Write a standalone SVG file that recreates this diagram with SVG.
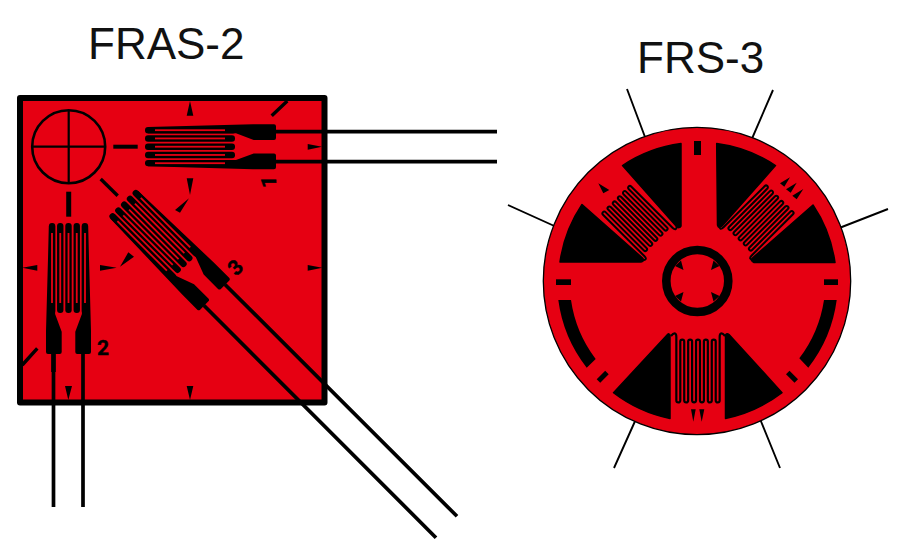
<svg xmlns="http://www.w3.org/2000/svg" xmlns:xlink="http://www.w3.org/1999/xlink" width="900" height="546" viewBox="0 0 900 546">
<style>
.title{font-family:"Liberation Sans",Arial,sans-serif;font-size:44px;fill:#111}
.num{font-family:Roboto,"Liberation Sans",sans-serif;font-size:21px;font-weight:700;fill:#000;stroke:#000;stroke-width:.4}
.red{fill:#e60012}
.blk{fill:#000}
.lead{fill:none;stroke:#000;stroke-width:3.7}
.thin{fill:none;stroke:#000;stroke-width:1.9}
.dash{fill:none;stroke:#000}
.pad{fill:#000;stroke:#000;stroke-width:1.5;stroke-linejoin:round}
</style>
<defs>
<g id="gauge">
<path class="blk" d="M-19.6,3L-22.5,108V129Q-22.5,131-20.5,131H-8.8Q-6.8,131-6.8,129V108.7L-13.4,91V3Z"/>
<path class="blk" d="M19.6,3L22.5,108V129Q22.5,131 20.5,131H8.8Q6.8,131 6.8,129V108.7L13.4,91V3Z"/>
<rect class="blk" x="-19.6" y="0" width="6.4" height="91" rx="3"/>
<rect class="blk" x="-11.45" y="0" width="6.4" height="90" rx="3"/>
<rect class="blk" x="-3.2" y="0" width="6.4" height="90" rx="3"/>
<rect class="blk" x="5.05" y="0" width="6.4" height="90" rx="3"/>
<rect class="blk" x="13.2" y="0" width="6.4" height="91" rx="3"/>
<rect class="red" x="-17.4" y="10" width="1.8" height="70"/>
<rect class="red" x="-9.15" y="10" width="1.8" height="70"/>
<rect class="red" x="-.9" y="10" width="1.8" height="70"/>
<rect class="red" x="7.35" y="10" width="1.8" height="70"/>
<rect class="red" x="15.6" y="10" width="1.8" height="70"/>
</g>
<path id="grid" fill="none" stroke="#000" stroke-width="2.2" stroke-linejoin="round" d="M-27,3Q-24.5,0-23,.5Q-21.66,1-21.66,4V67.5A1.97 1.97 0 0 0-17.72,67.5V8.5A1.97 1.97 0 0 1-13.78,8.5V67.5A1.97 1.97 0 0 0-9.84,67.5V8.5A1.97 1.97 0 0 1-5.9,8.5V67.5A1.97 1.97 0 0 0-1.97,67.5V8.5A1.97 1.97 0 0 1 1.97,8.5V67.5A1.97 1.97 0 0 0 5.9,67.5V8.5A1.97 1.97 0 0 1 9.84,8.5V67.5A1.97 1.97 0 0 0 13.78,67.5V8.5A1.97 1.97 0 0 1 17.72,8.5V67.5A1.97 1.97 0 0 0 21.66,67.5V4Q21.66,1 23,.5Q24.5,0 27,3"/>
</defs>
<rect width="900" height="546" fill="#fff"/>
<text class="title" x="88" y="59">FRAS-2</text>
<text class="title" x="637" y="73">FRS-3</text>

<g id="fras2-carrier">
<rect x="20" y="98" width="304.5" height="304.5" fill="#e60012" stroke="#000" stroke-width="6" stroke-linejoin="round"/>
<circle cx="68.7" cy="146.7" r="36.5" fill="none" stroke="#000" stroke-width="2.6"/>
<path fill="none" stroke="#000" stroke-width="2.2" d="M32,146.7H105M68.7,110V183"/>
<path class="dash" stroke-width="4" d="M113.3,146.7H137.7"/>
<path class="dash" stroke-width="3.4" d="M100.7,179L117.7,195.7"/>
<path class="dash" stroke-width="5" d="M68.7,191.7V216.7"/>
<path class="dash" stroke-width="3.4" d="M287.3,101L271.7,115.7M37.3,348.3L22.3,365"/>
<path class="blk" d="M190,101L186.7,115.7H193.3ZM307.7,144V149.7L322,146.7ZM186.7,178.3H193.3L190,195ZM189,198.3L175,210L180,212.7ZM22.3,267.7L37.3,265V270.7ZM100,265V270.7L116.7,267.7ZM134,256.7L128.3,252.3L120,266.7ZM307.7,265V270.7L322.3,267.7ZM68.3,400L65,386H72ZM190,400L186.7,386H193.3Z"/>
</g>
<g id="gauge-1"><use xlink:href="#gauge" href="#gauge" transform="translate(145,146.7) rotate(-90)"/><text class="num" transform="translate(276,188) rotate(-90)">1</text></g>
<g id="gauge-2"><use xlink:href="#gauge" href="#gauge" transform="translate(68.5,223)"/><text class="num" x="97" y="355">2</text></g>
<g id="gauge-3"><use xlink:href="#gauge" href="#gauge" transform="translate(122,202.5) rotate(-45)"/><text class="num" text-anchor="middle" transform="translate(240.5,272.5) rotate(-45)">3</text></g>

<g id="connectors">
<path class="lead" d="M276,131.7H497M276,161.7H497"/>
<path class="lead" d="M53.5,354V507M83,354V507"/>
<path fill="none" stroke="#000" stroke-width="4.6" d="M53.5,354V372"/>
<path class="lead" d="M225,284.5L457,516.3M204,305.5L436,537.7"/>
<path class="thin" d="M627,89L649.5,149M773,90L747.5,149M508,205L566.5,231.5M888,209L829,232M614,468L640.5,409M780,468L756,409"/>
</g>

<g id="frs3">
<circle cx="697" cy="281" r="153.7" fill="#e60012" stroke="#000" stroke-width="1.3"/>
<path class="pad" d="M622.5,165.5A138 138 0 0 1 681,143.5V226Q679,229 676.5,226.5Z"/>
<path class="pad" d="M716.7,143.5A138 138 0 0 1 775.5,165.5L722,226Q718.5,229 717.5,225Z"/>
<path class="pad" d="M582,204.5A138 138 0 0 0 560,262H641Q645,261 642.5,258Z"/>
<path class="pad" d="M813,205A138 138 0 0 1 835,262.5H754Q750,261 752.5,258Z"/>
<path class="pad" d="M613.5,392.7L667.5,334.5Q669,333 670,335V418.5A139.5 139.5 0 0 1 613.5,392.7Z"/>
<path class="pad" d="M782,392.7L729,334.5Q727,333 725.5,335V418.5A139.5 139.5 0 0 0 782,392.7Z"/>
<use xlink:href="#grid" href="#grid" transform="translate(698,333)"/>
<use xlink:href="#grid" href="#grid" transform="translate(661,244.5) rotate(135) scale(.92)"/>
<use xlink:href="#grid" href="#grid" transform="translate(735,244) rotate(225) scale(.92)"/>
<circle cx="697.3" cy="281" r="31" fill="none" stroke="#000" stroke-width="8.6"/>
<path class="blk" d="M675,266L681,260.5L683.5,270ZM713.5,260.5L719.5,266L711,270ZM675,296L681,301.5L683.5,292ZM711,292L719.5,296L713.5,301.5Z"/>
<rect class="blk" x="694" y="141" width="7" height="14"/>
<rect class="blk" x="556" y="279.3" width="15" height="5.7"/>
<rect class="blk" x="824" y="279.3" width="14" height="5.7"/>
<rect class="blk" x="-6" y="-2.5" width="12" height="5" transform="translate(602.7,376.7) rotate(-45)"/>
<rect class="blk" x="-6" y="-2.5" width="12" height="5" transform="translate(792,376.7) rotate(45)"/>
<path class="blk" d="M558.3,300A140 140 0 0 0 586.7,367.7L595.7,359A127.5 127.5 0 0 1 571,300Z"/>
<path class="blk" d="M836.7,300A140 140 0 0 1 808.3,367.7L799.3,358.3A127.5 127.5 0 0 0 824,300Z"/>
<path class="blk" d="M598.3,183.3L609.3,190L603.3,193.3ZM790,177.3L780,183.3L784.3,186.7ZM796.7,182.7L786,189.3L790.7,192.7ZM803.3,189L792.3,195.7L796.7,199.3ZM691,409.3H695.7L693.3,421.7ZM699.3,409.3H704.3L701.7,421.7Z"/>
</g>
</svg>
